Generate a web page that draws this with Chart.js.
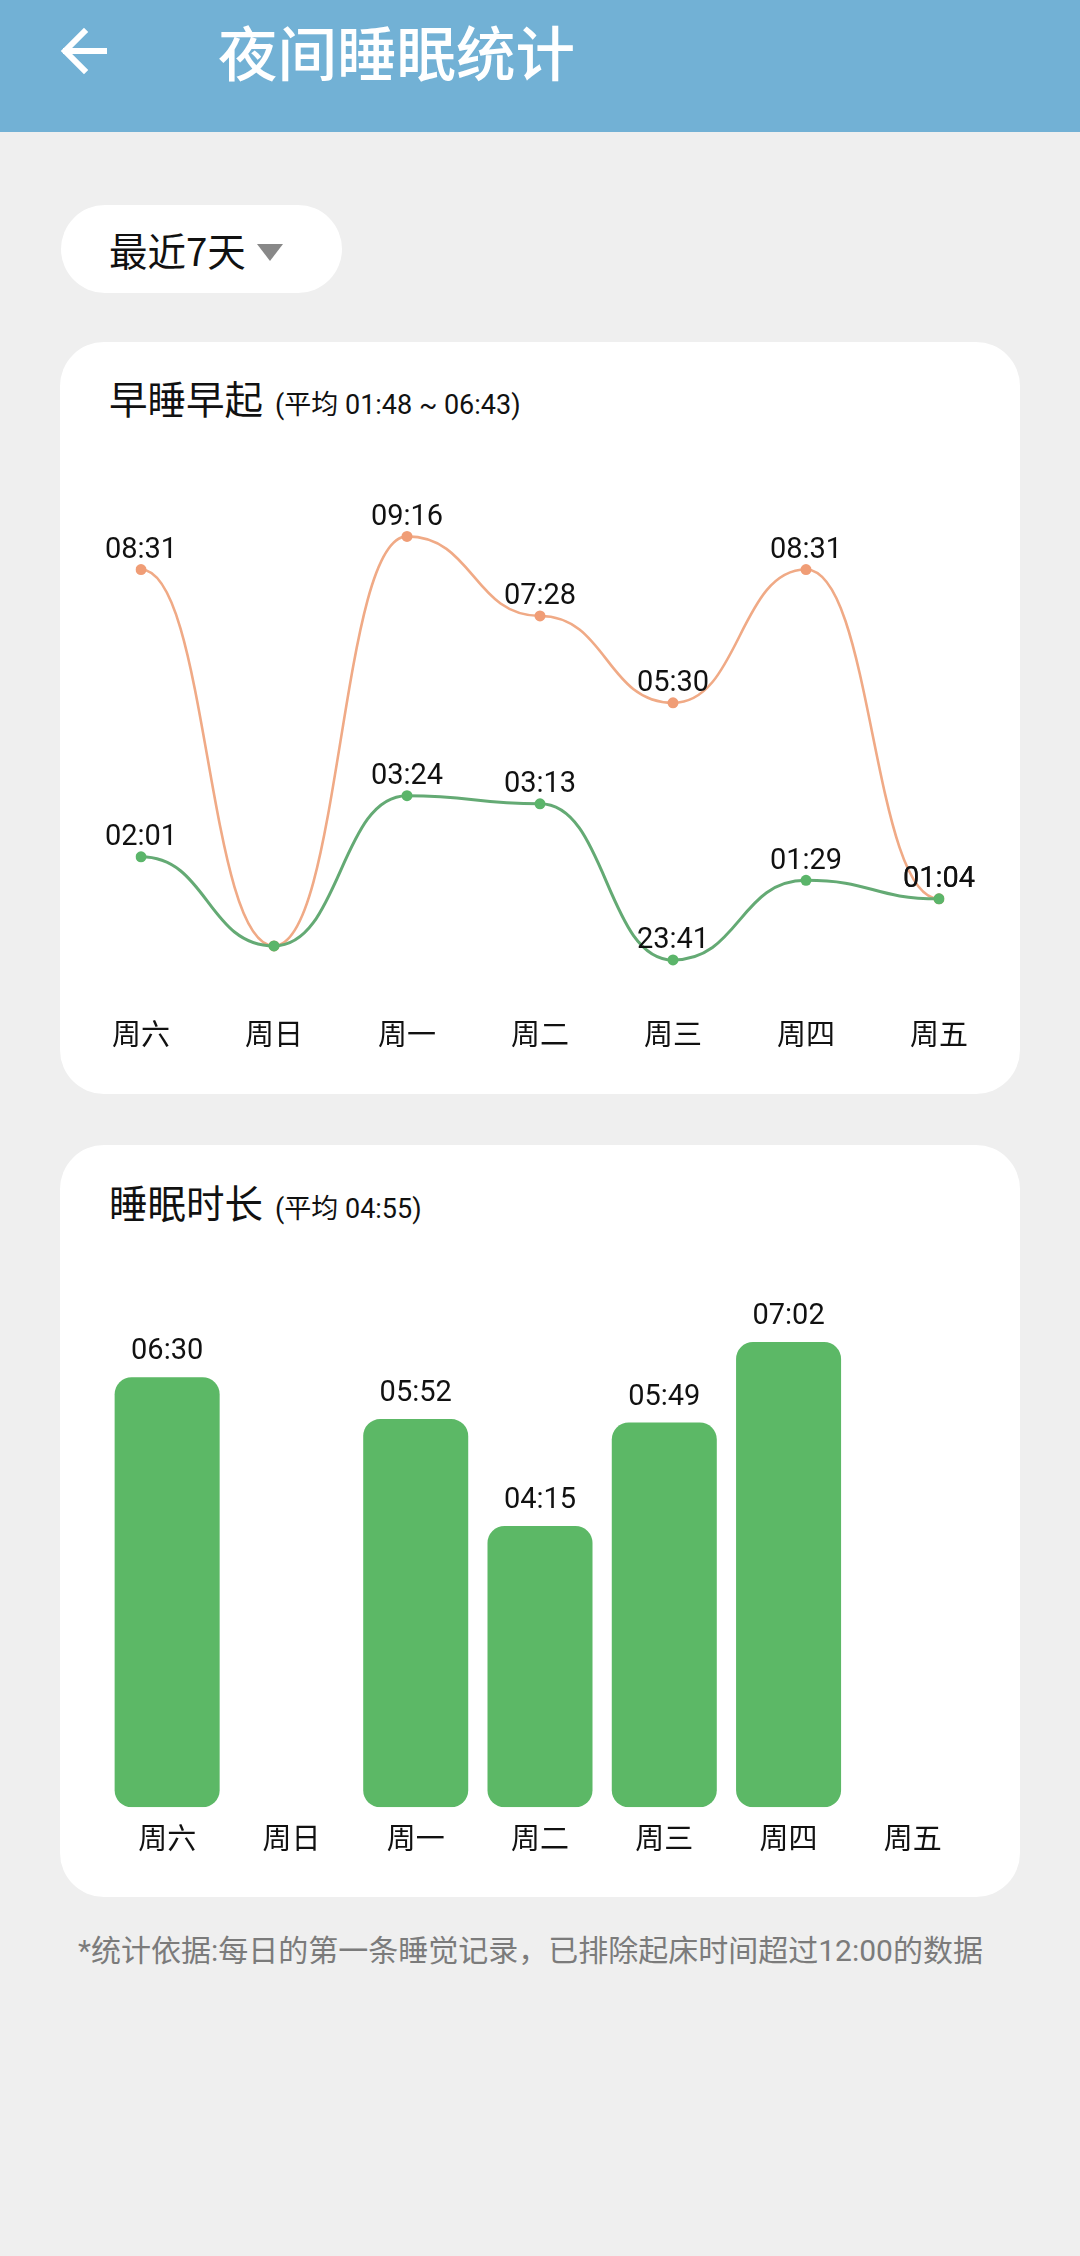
<!DOCTYPE html>
<html>
<head>
<meta charset="utf-8">
<script src="https://cdn.jsdelivr.net/npm/chart.js@4.4.0/dist/chart.umd.min.js"></script>
<style>
  html, body { margin: 0; padding: 0; }
  body {
    width: 1080px; height: 2256px; position: relative; overflow: hidden;
    background: #efefef;
    font-family: "Roboto", "Noto Sans CJK SC", sans-serif;
    color: #111;
  }
  .header { position: absolute; left: 0; top: 0; width: 1080px; height: 132px; background: #72b1d5; }
  .back { position: absolute; left: 58px; top: 26px; }
  .title {
    position: absolute; left: 218px; top: 20px; font-size: 59.5px; line-height: 60px;
    color: #fff; font-weight: 500; font-family: "Noto Sans CJK SC", sans-serif;
  }
  .pill {
    position: absolute; left: 61px; top: 205px; width: 281px; height: 88px;
    background: #fff; border-radius: 44px;
  }
  .pill span {
    position: absolute; left: 48px; top: 23px; font-size: 38.5px; line-height: 42px;
    font-family: "Noto Sans CJK SC", sans-serif;
  }
  .tri {
    position: absolute; left: 196px; top: 39px; width: 0; height: 0;
    border-left: 13px solid transparent; border-right: 13px solid transparent;
    border-top: 17px solid #888;
  }
  .card { position: absolute; left: 60px; width: 960px; background: #fff; border-radius: 44px; }
  .ctitle {
    position: absolute; left: 49px; font-size: 38.5px; line-height: 42px;
    font-family: "Noto Sans CJK SC", sans-serif; white-space: nowrap;
  }
  .ctitle small { font-size: 27px; font-family: "Roboto", "Noto Sans CJK SC", sans-serif; margin-left: 12px; }
  canvas { position: absolute; left: 60px; }
  .note {
    position: absolute; left: 78px; top: 1932px; font-size: 30px; line-height: 38px;
    color: #7b7b7b; white-space: nowrap;
  }
</style>
</head>
<body>
<div class="header">
  <svg class="back" width="52" height="50" viewBox="0 0 52 50">
    <path d="M46 25 H8 M26 6 L7 25 L26 44" stroke="#fff" stroke-width="6" fill="none" stroke-linecap="square"/>
  </svg>
  <div class="title">夜间睡眠统计</div>
</div>

<div class="pill"><span>最近7天</span><div class="tri"></div></div>

<div class="card" style="top:342px;height:752px;">
  <div class="ctitle" style="top:34px;">早睡早起<small>(平均 01:48 ~ 06:43)</small></div>
</div>
<canvas id="timeChart" style="top:460px;width:960px;height:620px;" width="960" height="620"></canvas>

<div class="card" style="top:1145px;height:752px;">
  <div class="ctitle" style="top:35px;">睡眠时长<small>(平均 04:55)</small></div>
</div>
<canvas id="durChart" style="top:1240px;width:960px;height:640px;" width="960" height="640"></canvas>

<div class="note">*统计依据:每日的第一条睡觉记录，已排除起床时间超过12:00的数据</div>

<script>
// days of the week shown on both charts
const days = ['周六', '周日', '周一', '周二', '周三', '周四', '周五'];
// bedtime / wake-up time per day (null = no record that day)
const bedTimes = ['02:01', null, '03:24', '03:13', '23:41', '01:29', '01:04'];
const wakeTimes = ['08:31', null, '09:16', '07:28', '05:30', '08:31', '01:04'];
// sleep length per day (null = no bar)
const durations = ['06:30', null, '05:52', '04:15', '05:49', '07:02', null];

// "hh:mm" -> minutes from midnight, evening times go negative
function toMin(t) {
  if (t == null) return 0;
  const p = t.split(':');
  let m = parseInt(p[0], 10) * 60 + parseInt(p[1], 10);
  if (m >= 12 * 60) m -= 24 * 60;
  return m;
}

const labelFont = { family: 'Roboto, "Noto Sans CJK SC", sans-serif', size: 29 };
const tickFont = { family: '"Noto Sans CJK SC", sans-serif', size: 29 };

// draws the value text over each point / bar, taken from the element positions
const valueText = {
  id: 'valueText',
  afterDatasetsDraw(chart) {
    const ctx = chart.ctx;
    ctx.save();
    ctx.font = labelFont.size + 'px ' + labelFont.family;
    ctx.fillStyle = '#111';
    ctx.textAlign = 'center';
    ctx.textBaseline = 'middle';
    chart.data.datasets.forEach((ds, i) => {
      const meta = chart.getDatasetMeta(i);
      meta.data.forEach((el, j) => {
        const txt = ds.texts[j];
        if (!txt) return;
        ctx.fillText(txt, el.x, el.y - ds.textGap);
      });
    });
    ctx.restore();
  }
};

// curve with flat tangents at every point (android-style horizontal bezier)
const flatBezier = {
  id: 'flatBezier',
  beforeDatasetDraw(chart, args) {
    const meta = args.meta;
    if (meta.type !== 'line') return;
    const line = meta.dataset;
    line.updateControlPoints(chart.chartArea, 'x');
    const pts = meta.data;
    for (let i = 0; i < pts.length; i++) {
      const p = pts[i];
      const prev = pts[i - 1], next = pts[i + 1];
      p.cp1x = prev ? p.x - (p.x - prev.x) / 2 : p.x;
      p.cp1y = p.y;
      p.cp2x = next ? p.x + (next.x - p.x) / 2 : p.x;
      p.cp2y = p.y;
    }
    line._path = undefined;
  }
};

new Chart(document.getElementById('timeChart'), {
  type: 'line',
  data: {
    labels: days,
    datasets: [
      {
        label: '入睡',
        data: bedTimes.map(toMin),
        texts: bedTimes,
        textGap: 19,
        borderColor: '#64aa74',
        backgroundColor: '#5bb56a',
        pointBackgroundColor: '#5bb56a',
        pointBorderWidth: 0,
        pointRadius: 5.5,
        borderWidth: 3,
        tension: 0.4
      },
      {
        label: '起床',
        data: wakeTimes.map(toMin),
        texts: wakeTimes,
        textGap: 19,
        borderColor: '#f0aa86',
        backgroundColor: '#f09d76',
        pointBackgroundColor: '#f09d76',
        pointBorderWidth: 0,
        pointRadius: 5.5,
        borderWidth: 2.6,
        tension: 0.4
      }
    ]
  },
  options: {
    responsive: false,
    animation: false,
    layout: { padding: { left: 81, right: 81, top: 44, bottom: 25 } },
    plugins: { legend: { display: false }, tooltip: { enabled: false } },
    scales: {
      y: { display: false, min: -90, max: 600 },
      x: {
        grid: { display: false, drawTicks: false },
        border: { display: false },
        ticks: { color: '#111', font: tickFont, padding: 4, maxRotation: 0, autoSkip: false }
      }
    }
  },
  plugins: [flatBezier, valueText]
});

new Chart(document.getElementById('durChart'), {
  type: 'bar',
  data: {
    labels: days,
    datasets: [
      {
        label: '睡眠时长',
        data: durations.map(d => (d == null ? null : toMin(d))),
        texts: durations,
        textGap: 25,
        backgroundColor: '#5cb866',
        borderRadius: 17,
        borderSkipped: false,
        categoryPercentage: 1,
        barPercentage: 0.845
      }
    ]
  },
  options: {
    responsive: false,
    animation: false,
    layout: { padding: { left: 45, right: 45, top: 38, bottom: 12 } },
    plugins: { legend: { display: false }, tooltip: { enabled: false } },
    scales: {
      y: { display: false, min: 0, max: 480 },
      x: {
        grid: { display: false, drawTicks: false },
        border: { display: false },
        ticks: { color: '#111', font: tickFont, padding: 13, maxRotation: 0, autoSkip: false }
      }
    }
  },
  plugins: [valueText]
});
</script>
</body>
</html>
